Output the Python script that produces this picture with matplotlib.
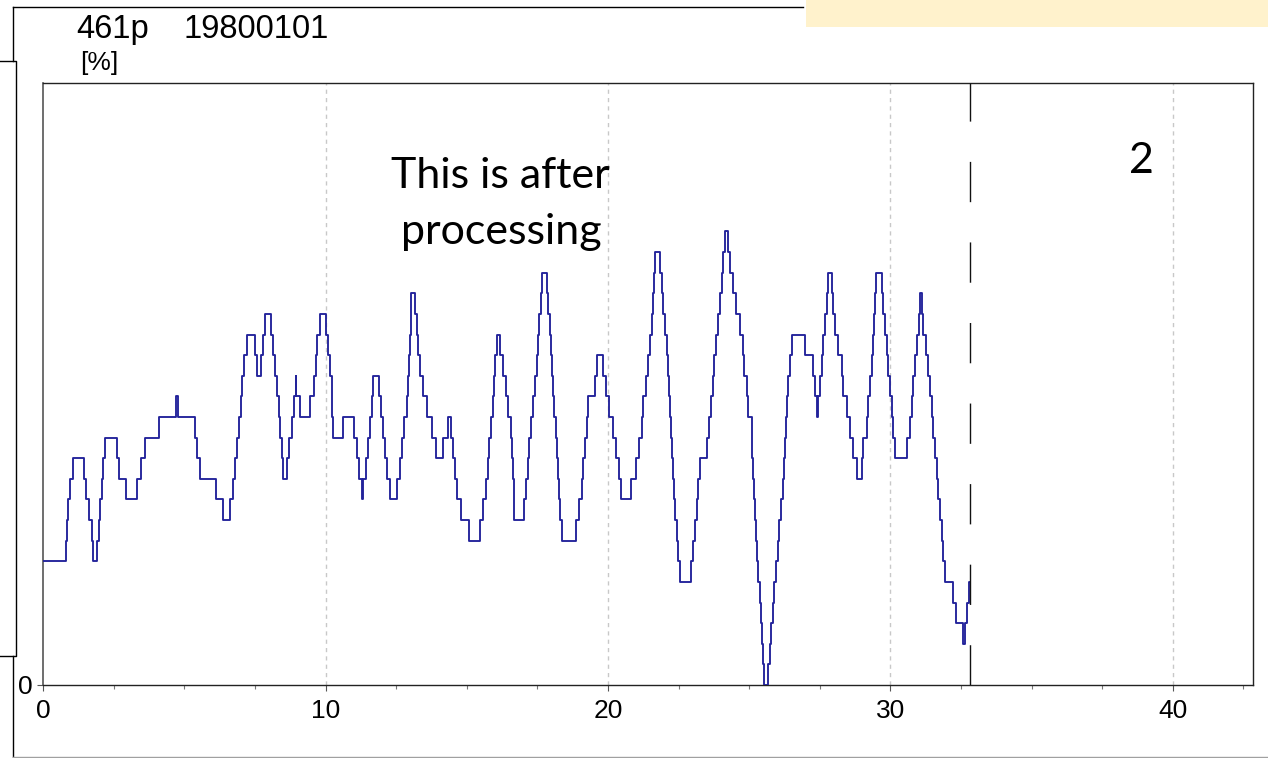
import matplotlib
matplotlib.use("Agg")
import matplotlib.pyplot as plt
from matplotlib.lines import Line2D
from matplotlib.patches import Rectangle
from matplotlib.ticker import MultipleLocator

# ---- data: step change points (x) and level held from that point on ----
t = [0.000, 0.793, 0.829, 0.885, 0.945, 1.041, 1.431, 1.512, 1.629, 1.714,
     1.749, 1.912, 1.972, 2.018, 2.079, 2.103, 2.174, 2.620, 2.691, 2.928,
     3.318, 3.449, 3.591, 4.097, 4.688, 4.759, 5.361, 5.453, 5.549, 6.115,
     6.374, 6.611, 6.728, 6.788, 6.870, 6.930, 6.990, 7.047, 7.107, 7.202,
     7.496, 7.578, 7.698, 7.790, 7.850, 8.063, 8.134, 8.205, 8.275, 8.346,
     8.399, 8.452, 8.498, 8.640, 8.711, 8.796, 8.877, 8.938, 8.959, 9.090,
     9.444, 9.586, 9.656, 9.702, 9.798, 10.010, 10.071, 10.152, 10.212, 10.241,
     10.269, 10.623, 11.002, 11.098, 11.190, 11.275, 11.331, 11.427, 11.508, 11.569,
     11.629, 11.664, 11.888, 11.948, 12.019, 12.100, 12.160, 12.277, 12.535, 12.631,
     12.691, 12.772, 12.868, 12.925, 12.960, 12.985, 13.010, 13.031, 13.162, 13.233,
     13.279, 13.339, 13.456, 13.577, 13.775, 13.895, 14.143, 14.320, 14.426, 14.518,
     14.578, 14.660, 14.780, 15.085, 15.464, 15.559, 15.666, 15.736, 15.793, 15.853,
     15.914, 15.970, 16.013, 16.055, 16.172, 16.268, 16.374, 16.466, 16.551, 16.597,
     16.632, 16.657, 16.678, 17.022, 17.093, 17.153, 17.210, 17.270, 17.351, 17.412,
     17.472, 17.528, 17.564, 17.613, 17.649, 17.847, 17.889, 17.932, 17.974, 18.017,
     18.059, 18.102, 18.144, 18.187, 18.229, 18.272, 18.314, 18.357, 18.863, 18.980,
     19.065, 19.122, 19.182, 19.242, 19.299, 19.536, 19.596, 19.809, 19.926, 20.042,
     20.163, 20.280, 20.386, 20.446, 20.800, 20.988, 21.105, 21.190, 21.246, 21.342,
     21.423, 21.483, 21.544, 21.590, 21.625, 21.650, 21.838, 21.898, 21.955, 22.015,
     22.075, 22.131, 22.167, 22.202, 22.238, 22.273, 22.298, 22.344, 22.380, 22.429,
     22.465, 22.546, 22.936, 23.017, 23.078, 23.138, 23.194, 23.254, 23.492, 23.584,
     23.644, 23.704, 23.761, 23.821, 23.881, 23.963, 24.023, 24.079, 24.140, 24.235,
     24.317, 24.433, 24.529, 24.670, 24.766, 24.823, 24.908, 24.964, 25.085, 25.113,
     25.148, 25.184, 25.212, 25.237, 25.273, 25.308, 25.379, 25.414, 25.439, 25.496,
     25.531, 25.652, 25.733, 25.768, 25.829, 25.875, 25.945, 26.006, 26.062, 26.123,
     26.183, 26.229, 26.264, 26.310, 26.346, 26.381, 26.441, 26.502, 26.973, 27.266,
     27.327, 27.408, 27.426, 27.504, 27.564, 27.621, 27.681, 27.741, 27.798, 27.918,
     27.975, 28.035, 28.152, 28.272, 28.329, 28.449, 28.566, 28.683, 28.803, 28.980,
     29.037, 29.157, 29.214, 29.274, 29.334, 29.391, 29.426, 29.451, 29.486, 29.688,
     29.745, 29.805, 29.865, 29.922, 29.982, 30.042, 30.099, 30.159, 30.574, 30.690,
     30.751, 30.807, 30.867, 30.928, 31.020, 31.045, 31.105, 31.162, 31.257, 31.339,
     31.399, 31.459, 31.516, 31.576, 31.636, 31.693, 31.753, 31.813, 31.870, 31.930,
     32.224, 32.320, 32.557, 32.638, 32.719, 32.791]
level = [6, 7, 8, 9, 10, 11, 10, 9, 8, 7,
         6, 7, 8, 9, 10, 11, 12, 11, 10, 9,
         10, 11, 12, 13, 14, 13, 12, 11, 10, 9,
         8, 9, 10, 11, 12, 13, 14, 15, 16, 17,
         16, 15, 16, 17, 18, 17, 16, 15, 14, 13,
         12, 11, 10, 11, 12, 13, 14, 15, 14, 13,
         14, 15, 16, 17, 18, 17, 16, 15, 14, 13,
         12, 13, 12, 11, 10, 9, 10, 11, 12, 13,
         14, 15, 14, 13, 12, 11, 10, 9, 10, 11,
         12, 13, 14, 15, 16, 17, 18, 19, 18, 17,
         16, 15, 14, 13, 12, 11, 12, 13, 12, 11,
         10, 9, 8, 7, 8, 9, 10, 11, 12, 13,
         14, 15, 16, 17, 16, 15, 14, 13, 12, 11,
         10, 9, 8, 9, 10, 11, 12, 13, 14, 15,
         16, 17, 18, 19, 20, 19, 18, 17, 16, 15,
         14, 13, 12, 11, 10, 9, 8, 7, 8, 9,
         10, 11, 12, 13, 14, 15, 16, 15, 14, 13,
         12, 11, 10, 9, 10, 11, 12, 13, 14, 15,
         16, 17, 18, 19, 20, 21, 20, 19, 18, 17,
         16, 15, 14, 13, 12, 11, 10, 9, 8, 7,
         6, 5, 6, 7, 8, 9, 10, 11, 12, 13,
         14, 15, 16, 17, 18, 19, 20, 21, 22, 21,
         20, 19, 18, 17, 16, 15, 14, 13, 12, 11,
         10, 9, 8, 7, 6, 5, 4, 3, 2, 1,
         0, 1, 2, 3, 4, 5, 6, 7, 8, 9,
         10, 11, 12, 13, 14, 15, 16, 17, 16, 15,
         14, 13, 14, 15, 16, 17, 18, 19, 20, 19,
         18, 17, 16, 15, 14, 13, 12, 11, 10, 11,
         12, 13, 14, 15, 16, 17, 18, 19, 20, 19,
         18, 17, 16, 15, 14, 13, 12, 11, 12, 13,
         14, 15, 16, 17, 18, 19, 18, 17, 16, 15,
         14, 13, 12, 11, 10, 9, 8, 7, 6, 5,
         4, 3, 2, 3, 4, 5]
t_end = 32.81
marker_x = 32.8
x_ticks = [0, 10, 20, 30, 40]
title_id = "461p"
title_date = "19800101"
y_unit = "[%]"
note_text = ["This is after", "processing"]
panel_no = "2"

W, H = 1268, 758
fig = plt.figure(figsize=(W / 100, H / 100), dpi=100)


def fx(px):
    return px / W


def fy(py):
    return 1 - py / H


ax = fig.add_axes([fx(43.3), fy(685), fx(1252.5) - fx(43.3), fy(83) - fy(685)])

xs = list(t) + [t_end]
ys = list(level) + [level[-1]]
ax.step(xs, ys, where="post", color="#22229a", lw=1.35, zorder=3)

ax.set_xlim(0, 42.82)
ax.set_ylim(0, 29.2)
ax.set_xticks(x_ticks)
ax.set_xticklabels([str(v) for v in x_ticks])
ax.xaxis.set_minor_locator(MultipleLocator(2.5))
ax.set_yticks([0])
ax.set_yticklabels(["0"])
ax.tick_params(axis="both", which="major", direction="out", length=4, width=0.8,
               color="#555555", labelsize=19, pad=4)
ax.tick_params(axis="x", which="major", pad=6)
ax.tick_params(axis="x", which="minor", direction="out", length=3, width=0.8,
               color="#777777")
for lab in ax.get_xticklabels() + ax.get_yticklabels():
    lab.set_fontfamily("Liberation Sans")

for v in [10, 20, 30, 40]:
    ax.axvline(v, color="#c8c8c8", lw=1.0, ls=(0, (3, 3)), zorder=1)
ax.plot([marker_x, marker_x], [0, 29.2], color="#111111", lw=1.0,
        ls=(0, (29, 29)), zorder=4)

for side in ["top", "right", "bottom"]:
    ax.spines[side].set_color("#222222")
    ax.spines[side].set_linewidth(1.0)
ax.spines["left"].set_color("#555555")
ax.spines["left"].set_linewidth(1.2)

# header texts
fig.text(fx(76), fy(38), title_id, fontsize=23.5, family="Liberation Sans",
         va="baseline", ha="left")
fig.text(fx(183), fy(38), title_date, fontsize=23.5, family="Liberation Sans",
         va="baseline", ha="left")
fig.text(fx(80), fy(63), y_unit, fontsize=19, family="Liberation Sans",
         va="center", ha="left")

# annotation texts
fig.text(fx(500), fy(188), note_text[0], fontsize=31, family="Lato",
         va="baseline", ha="center")
fig.text(fx(501), fy(244), note_text[1], fontsize=31, family="Lato",
         va="baseline", ha="center")
fig.text(fx(1141), fy(173), panel_no, fontsize=31, family="Lato",
         va="baseline", ha="center")

# outer decorations
fig.add_artist(Rectangle((fx(806), fy(27)), fx(W) - fx(806), fy(0) - fy(27),
                         transform=fig.transFigure, facecolor="#fff2cc",
                         edgecolor="none"))
fig.add_artist(Line2D([fx(13), fx(803)], [fy(7), fy(7)], transform=fig.transFigure,
                      color="black", lw=1.0))
fig.add_artist(Line2D([fx(13), fx(13)], [fy(7), fy(61)], transform=fig.transFigure,
                      color="black", lw=1.0))
fig.add_artist(Line2D([fx(13), fx(13)], [fy(656), fy(757)], transform=fig.transFigure,
                      color="black", lw=1.0))
fig.add_artist(Line2D([fx(0), fx(16), fx(16), fx(0)], [fy(61), fy(61), fy(656), fy(656)],
                      transform=fig.transFigure, color="black", lw=1.0))
fig.add_artist(Line2D([fx(13), fx(W)], [fy(757), fy(757)], transform=fig.transFigure,
                      color="#a0a0a0", lw=1.0))

fig.savefig("out.png", dpi=100)
